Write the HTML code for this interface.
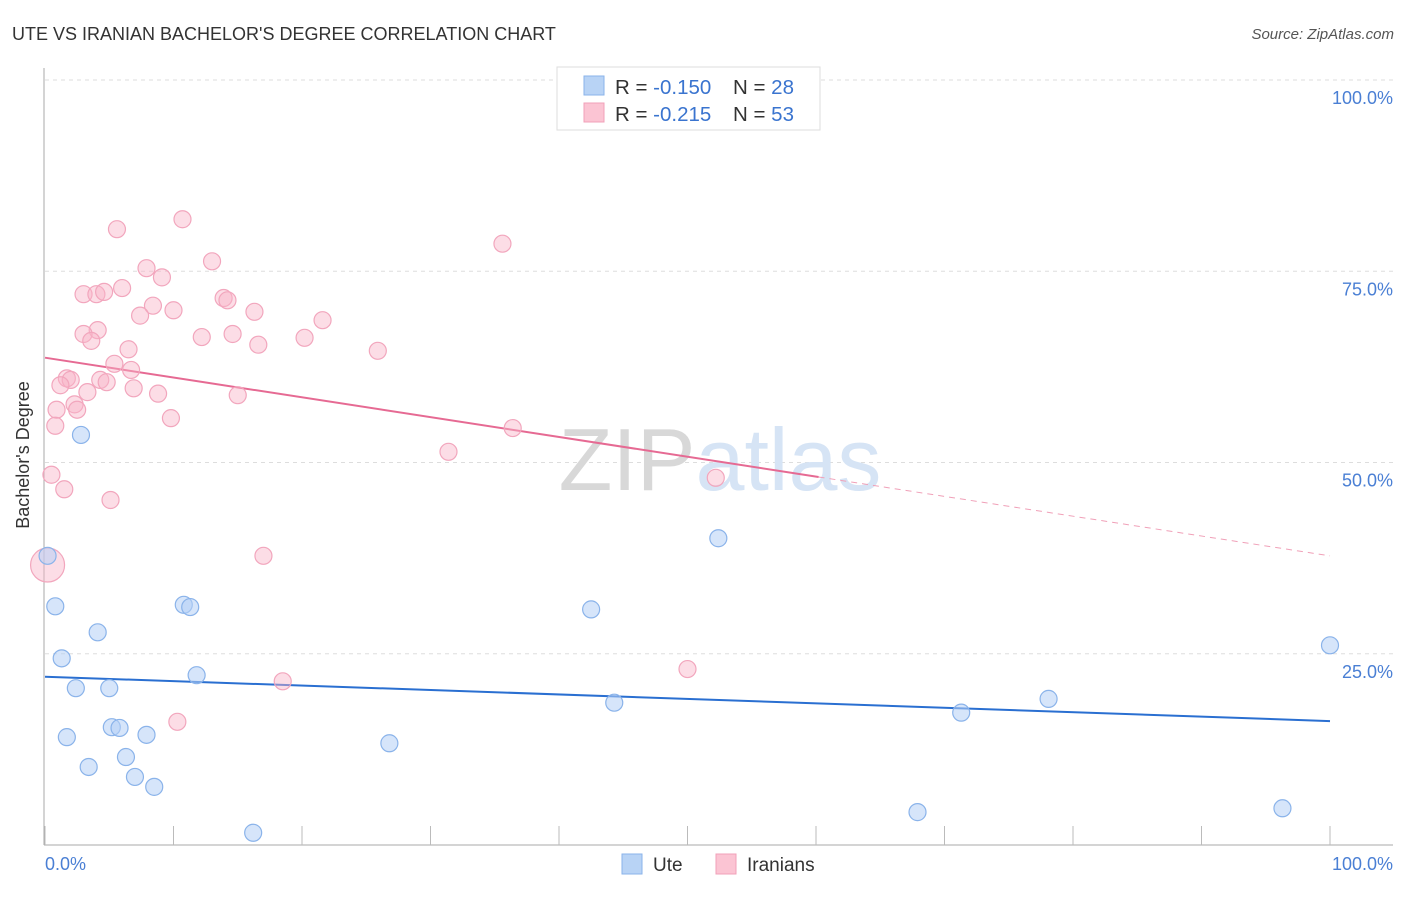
<!DOCTYPE html>
<html><head><meta charset="utf-8"><style>
body{margin:0;background:#fff;font-family:"Liberation Sans",sans-serif;}
svg text{font-family:"Liberation Sans",sans-serif;}
</style></head><body>
<svg width="1406" height="892" xmlns="http://www.w3.org/2000/svg">
<text x="12" y="40" font-size="18" fill="#333">UTE VS IRANIAN BACHELOR'S DEGREE CORRELATION CHART</text>
<text x="1394" y="39" font-size="15" fill="#555" font-style="italic" text-anchor="end">Source: ZipAtlas.com</text>
<g id="grid"></g>
<text x="720" y="490" font-size="88" fill="#ddd" text-anchor="middle" font-family="Liberation Serif"><tspan fill="#d8d8d8">ZIP</tspan><tspan fill="#d6e4f5" font-family="Liberation Sans">atlas</tspan></text>
<g id="axes"></g>
<g id="lines"></g>
<g id="pts"></g>
<text x="29" y="455" font-size="18" fill="#333" text-anchor="middle" transform="rotate(-90 29 455)">Bachelor's Degree</text>
<text x="45" y="870" font-size="18" fill="#4a7fd4">0.0%</text>
<text x="1393" y="870" font-size="18" fill="#4a7fd4" text-anchor="end">100.0%</text>
<g>
<rect x="557" y="67" width="263" height="63" fill="#fff" stroke="#ddd"/>
<rect x="584" y="76" width="20" height="19" fill="#b8d3f5" stroke="#8ab3ea"/>
<rect x="584" y="103" width="20" height="19" fill="#fbc4d3" stroke="#f2a0b8"/>
<text x="615" y="94" font-size="20.5" fill="#333">R = <tspan fill="#3a74cf">-0.150</tspan><tspan x="733">N = </tspan><tspan fill="#3a74cf">28</tspan></text>
<text x="615" y="121" font-size="20.5" fill="#333">R = <tspan fill="#3a74cf"> -0.215</tspan><tspan x="733">N = </tspan><tspan fill="#3a74cf">53</tspan></text>
</g>
<g>
<rect x="622" y="854" width="20" height="20" fill="#b8d3f5" stroke="#8ab3ea"/>
<text x="653" y="871" font-size="19" fill="#333">Ute</text>
<rect x="716" y="854" width="20" height="20" fill="#fbc4d3" stroke="#f2a0b8"/>
<text x="747" y="871" font-size="19" fill="#333">Iranians</text>
</g>
</svg>
<script>
const yTicks=[25,50,75,100];
const yTickLabels=["25.0%","50.0%","75.0%","100.0%"];
const uteX=[0.2,0.8,2.8,1.3,4.1,2.4,5.0,1.7,5.2,5.8,7.9,3.4,6.3,7.0,8.5,10.8,11.3,11.8,16.2,26.8,42.5,44.3,52.4,71.3,78.1,67.9,96.3,100];
const uteY=[37.8,31.2,53.6,24.4,27.8,20.5,20.5,14.1,15.4,15.3,14.4,10.2,11.5,8.9,7.6,31.4,31.1,22.2,1.6,13.3,30.8,18.6,40.1,17.3,19.1,4.3,4.8,26.1];
const iraX=[5.6,10.7,35.6,7.9,9.1,13.0,6.0,3.0,4.0,4.6,13.9,14.2,8.4,10.0,7.4,16.3,21.6,4.1,3.0,3.6,12.2,14.6,20.2,16.6,6.5,25.9,5.4,6.7,1.7,2.0,4.3,4.8,1.2,6.9,3.3,8.8,15.0,2.3,0.9,2.5,9.8,0.8,36.4,31.4,0.5,1.5,52.2,5.1,17.0,0.2,50.0,18.5,10.3];
const iraY=[80.5,81.8,78.6,75.4,74.2,76.3,72.8,72.0,72.0,72.3,71.5,71.2,70.5,69.9,69.2,69.7,68.6,67.3,66.8,65.9,66.4,66.8,66.3,65.4,64.8,64.6,62.9,62.1,61.0,60.8,60.8,60.5,60.1,59.7,59.2,59.0,58.8,57.6,56.9,56.9,55.8,54.8,54.5,51.4,48.4,46.5,48.0,45.1,37.8,36.6,23.0,21.4,16.1];
const uteTrend=[22.0,16.2];
const iraTrend=[63.7,37.8];
const iraSolidEnd=60.2;
const NS="http://www.w3.org/2000/svg";
const X=v=>45+v*12.85, Y=v=>845-v*7.65;
function mk(p,t,a){const e=document.createElementNS(NS,t);for(const k in a)e.setAttribute(k,a[k]);document.getElementById(p).appendChild(e);return e;}
yTicks.forEach((t,i)=>{
 const l=mk('grid','line',{x1:45,x2:1393,y1:Y(t),y2:Y(t),stroke:'#ddd','stroke-dasharray':'4 4'});
 
 
 const tx=mk('grid','text',{x:1393,y:Y(t)+24,'font-size':18,fill:'#4a7fd4','text-anchor':'end'});
 tx.textContent=yTickLabels[i];
 
 
});
mk('axes','line',{x1:44,x2:44,y1:68,y2:845,stroke:'#aaa'});
mk('axes','line',{x1:44,x2:1393,y1:845,y2:845,stroke:'#aaa'});
for(let i=0;i<=10;i++){const t=mk('axes','line',{x1:X(i*10),x2:X(i*10),y1:826,y2:845,stroke:'#bbb'});
 
 }
const ty=(tr,x)=>tr[0]+(tr[1]-tr[0])*x/100;
let l1=mk('lines','line',{x1:X(0),y1:Y(uteTrend[0]),x2:X(100),y2:Y(uteTrend[1]),stroke:'#2a6fd1','stroke-width':2});


let l2=mk('lines','line',{x1:X(0),y1:Y(iraTrend[0]),x2:X(iraSolidEnd),y2:Y(ty(iraTrend,iraSolidEnd)),stroke:'#e66a93','stroke-width':2});


let l3=mk('lines','line',{x1:X(iraSolidEnd),y1:Y(ty(iraTrend,iraSolidEnd)),x2:X(100),y2:Y(iraTrend[1]),stroke:'#f0a0b8','stroke-width':1,'stroke-dasharray':'6 5'});


iraX.forEach((x,i)=>{const big=(i===49);
 const c=mk('pts','circle',{cx:X(x),cy:Y(iraY[i]),r:big?17:8.5,fill:'rgba(249,180,200,0.45)',stroke:'#f2a6bd','stroke-width':1.2});
 
 });
uteX.forEach((x,i)=>{
 const c=mk('pts','circle',{cx:X(x),cy:Y(uteY[i]),r:8.5,fill:'rgba(180,208,245,0.55)',stroke:'#8ab3ea','stroke-width':1.2});
 
 });
</script>
</body></html>
